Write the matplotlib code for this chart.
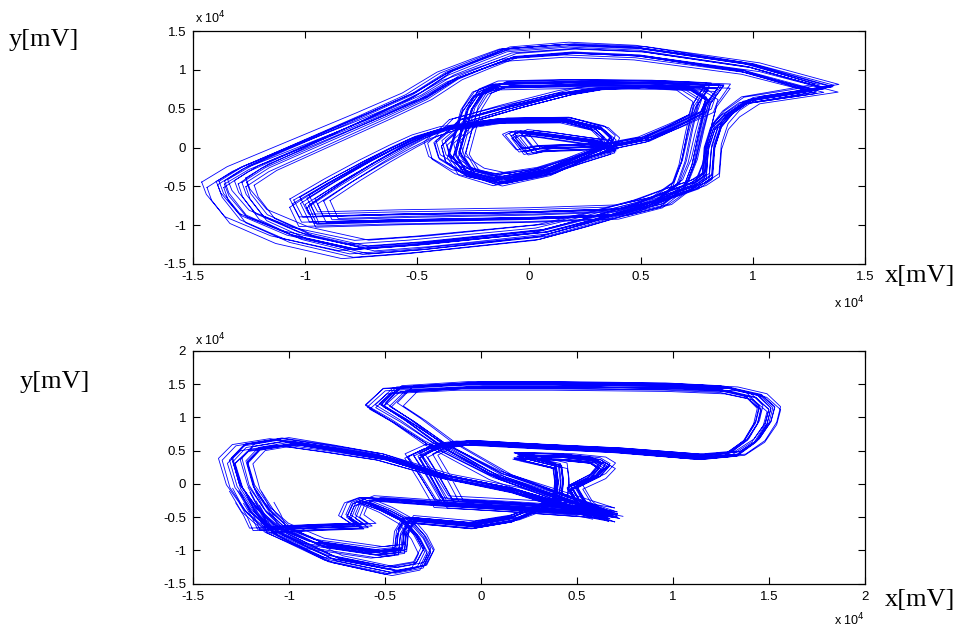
import numpy as np
import matplotlib
matplotlib.use("Agg")
import matplotlib.pyplot as plt

# ---------------- data (units of 1e4 mV) ----------------
# top panel: outer loop
top_outer_x = [-1.39, -1.28, -0.96, -0.72, -0.52, -0.37, -0.22, -0.10, 0.18, 0.50, 1.00, 1.35, 1.22, 1.00,
               0.91, 0.86, 0.83, 0.82, 0.76, 0.64, 0.50, 0.26, 0.05, -0.52, -0.80, -1.09, -1.29, -1.37, -1.39]
top_outer_y = [-0.48, -0.28, 0.12, 0.42, 0.68, 0.95, 1.12, 1.25, 1.31, 1.27, 1.06, 0.78, 0.72, 0.62,
               0.44, 0.27, 0.00, -0.38, -0.50, -0.62, -0.78, -0.98, -1.14, -1.31, -1.37, -1.18, -0.93, -0.64, -0.48]
# top panel: middle loop
top_mid_x = [-1.02, -0.98, -0.60, 0.00, 0.40, 0.60, 0.70, 0.74, 0.77, 0.80, 0.86, 0.60, 0.20, -0.13, -0.22,
             -0.27, -0.30, -0.33, -0.28, -0.13, 0.09, 0.24, 0.35, 0.37, 0.32, 0.17, -0.13, -0.37, -0.49,
             -0.59, -0.72, -0.87, -1.02]
top_mid_y = [-0.72, -0.96, -0.93, -0.90, -0.86, -0.72, -0.50, -0.20, 0.20, 0.55, 0.80, 0.83, 0.84, 0.82, 0.72,
             0.50, 0.20, -0.10, -0.32, -0.45, -0.32, -0.13, 0.00, 0.12, 0.25, 0.36, 0.35, 0.25, 0.14,
             0.00, -0.20, -0.45, -0.72]
# top panel: inner eye / spiral loop
top_eye_x = [-0.31, -0.10, 0.15, 0.30, 0.55, 0.72, 0.80, 0.78, 0.66, 0.52, 0.38, 0.25, 0.05, -0.02, -0.08,
             -0.05, 0.05, 0.20, 0.33, 0.36, 0.22, 0.05, -0.15, -0.30, -0.40, -0.42, -0.36, -0.31]
top_eye_y = [0.35, 0.52, 0.70, 0.77, 0.80, 0.77, 0.62, 0.45, 0.28, 0.10, 0.02, 0.00, -0.02, -0.06, 0.15,
             0.19, 0.16, 0.10, 0.05, -0.05, -0.17, -0.33, -0.42, -0.33, -0.15, 0.05, 0.20, 0.35]

# bottom panel: upper-right loop
bot_upper_x = [0.69, 0.40, 0.08, -0.25, -0.42, -0.55, -0.46, -0.09, 0.40, 1.00, 1.30, 1.45, 1.52, 1.50,
               1.44, 1.34, 1.15, 0.72, 0.30, -0.09, -0.25, -0.35, -0.28, -0.20, 0.17, 0.58, 0.69]
bot_upper_y = [-0.50, -0.21, 0.11, 0.62, 0.96, 1.19, 1.44, 1.50, 1.50, 1.48, 1.44, 1.34, 1.15, 0.92,
               0.65, 0.45, 0.40, 0.50, 0.56, 0.62, 0.56, 0.42, 0.10, -0.30, -0.36, -0.44, -0.50]
# bottom panel: left loop with small right loop
bot_left_x = [0.62, 0.17, -0.18, -0.53, -0.80, -1.05, -1.24, -1.31, -1.27, -1.18, -1.08, -0.88, -0.55,
              -0.43, -0.42, -0.38, -0.04, 0.17, 0.42, 0.43, 0.42, 0.25, 0.20, 0.45, 0.62, 0.67, 0.62, 0.50,
              0.55, 0.62]
bot_left_y = [-0.48, -0.09, 0.11, 0.42, 0.55, 0.66, 0.57, 0.36, -0.04, -0.42, -0.68, -0.93, -1.07,
              -1.03, -0.75, -0.55, -0.64, -0.54, -0.25, 0.05, 0.28, 0.40, 0.44, 0.42, 0.37, 0.28, 0.12, -0.05,
              -0.30, -0.48]
# bottom panel: hook strand
bot_hook_x = [-1.22, -1.18, -1.15, -0.85, -0.63, -0.70, -0.67, -0.60, -0.20, 0.17, 0.58, 0.68]
bot_hook_y = [-0.30, -0.50, -0.70, -0.66, -0.64, -0.50, -0.30, -0.22, -0.30, -0.36, -0.44, -0.50]
# bottom panel: lowest arc
bot_low_x = [-0.62, -0.50, -0.39, -0.32, -0.28, -0.32, -0.47, -0.79, -1.08, -1.20, -1.26]
bot_low_y = [-0.26, -0.40, -0.57, -0.80, -1.02, -1.25, -1.33, -1.14, -0.75, -0.42, -0.10]

# per-pass variations (x scale, y scale, x shift, y shift), read as spread of the bundles
pass_a = [(1.00, 1.00, 0.00, 0.00), (0.96, 0.95, 0.02, 0.03), (1.02, 1.03, -0.02, -0.02),
          (0.93, 0.90, 0.03, 0.04), (0.98, 1.01, 0.00, -0.03), (0.95, 0.96, 0.04, 0.01),
          (1.03, 0.99, -0.03, 0.03), (0.92, 0.93, 0.02, 0.00), (0.97, 0.98, -0.01, 0.04),
          (1.00, 0.94, 0.03, -0.02), (0.94, 1.02, 0.01, 0.02), (0.99, 0.91, -0.02, 0.00),
          (0.91, 0.95, 0.04, -0.03), (1.01, 0.99, 0.02, 0.04), (0.96, 0.88, -0.01, 0.01),
          (0.93, 0.97, 0.03, -0.04)]
pass_b = [(1.00, 1.00, 0.00, 0.00), (0.95, 0.98, 0.03, -0.02), (1.03, 0.96, -0.02, 0.03),
          (0.98, 1.04, 0.01, -0.03), (0.93, 0.94, 0.00, 0.02), (1.01, 1.02, 0.03, 0.00),
          (0.97, 0.91, -0.03, 0.02), (1.04, 0.98, 0.00, -0.02), (0.94, 1.03, -0.01, 0.01),
          (0.99, 0.96, 0.02, 0.04), (1.00, 0.92, -0.03, -0.01), (0.92, 1.00, 0.03, 0.03),
          (0.90, 0.96, 0.04, 0.01), (1.02, 1.03, -0.03, -0.03), (0.97, 0.90, 0.01, 0.04),
          (0.94, 1.01, -0.02, -0.02)]
pass_c = [(1.00, 1.00, 0.00, 0.00), (0.93, 0.97, 0.04, 0.00), (0.97, 1.03, 0.01, -0.03),
          (1.03, 0.95, -0.03, 0.02), (0.90, 0.93, 0.05, 0.03), (0.96, 0.99, 0.03, -0.02),
          (1.02, 1.04, -0.02, 0.01), (0.95, 0.92, 0.00, 0.03), (0.99, 1.02, 0.04, 0.04),
          (0.92, 1.00, -0.02, -0.03), (1.04, 0.97, 0.02, 0.01), (0.96, 0.91, -0.02, 0.03)]

top_ticks = [-1.5, -1, -0.5, 0, 0.5, 1, 1.5]
top_labels = ['-1.5', '-1', '-0.5', '0', '0.5', '1', '1.5']
bot_ticks = [-1.5, -1, -0.5, 0, 0.5, 1, 1.5, 2]
bot_labels = ['-1.5', '-1', '-0.5', '0', '0.5', '1', '1.5', '2']


def bundle(xs, ys, passes, cx, cy):
    X, Y = [], []
    for sx, sy, dx, dy in passes:
        X += [cx + (x - cx) * sx + dx for x in xs] + [np.nan]
        Y += [cy + (y - cy) * sy + dy for y in ys] + [np.nan]
    return X, Y


fig = plt.figure(figsize=(9.64, 6.34), dpi=100)
ax1 = fig.add_axes([0.2002, 0.5836, 0.6971, 0.3675])
ax2 = fig.add_axes([0.2002, 0.0794, 0.6971, 0.3670])

blue = (0.0, 0.0, 1.0)
lw = 0.6
for xs, ys, pv, c in [(top_outer_x, top_outer_y, pass_a, (-0.02, 0.0)),
                      (top_mid_x, top_mid_y, pass_b, (-0.1, -0.05)),
                      (top_eye_x, top_eye_y, pass_c, (0.2, 0.15))]:
    X, Y = bundle(xs, ys, pv, *c)
    ax1.plot(X, Y, color=blue, lw=lw)

for xs, ys, pv, c in [(bot_upper_x, bot_upper_y, pass_b, (0.5, 0.5)),
                      (bot_left_x, bot_left_y, pass_a, (-0.4, -0.2)),
                      (bot_hook_x, bot_hook_y, pass_c, (-0.3, -0.4)),
                      (bot_low_x, bot_low_y, pass_c, (-0.6, -0.7))]:
    X, Y = bundle(xs, ys, pv, *c)
    ax2.plot(X, Y, color=blue, lw=lw)

for ax, ticks, labels, lim in [(ax1, top_ticks, top_labels, (-1.5, 1.5)),
                               (ax2, bot_ticks, bot_labels, (-1.5, 2))]:
    ax.set_xlim(*lim)
    ax.set_ylim(*lim)
    ax.set_xticks(ticks)
    ax.set_xticklabels(labels)
    ax.set_yticks(ticks)
    ax.set_yticklabels(labels)
    ax.tick_params(direction='in', length=5, width=0.8, top=True, right=True,
                   labelsize=9.5, pad=5)
    for lab in ax.get_xticklabels() + ax.get_yticklabels():
        lab.set_family('Liberation Sans')
    for s in ax.spines.values():
        s.set_linewidth(0.9)

sans = 'Liberation Sans'
serif = 'Liberation Serif'
# offset labels
fig.text(195 / 964, 1 - 18 / 634, r'x 10$^4$', fontsize=9, family=sans, va='center', ha='left')
fig.text(865 / 964, 1 - 303 / 634, r'x 10$^4$', fontsize=9, family=sans, va='center', ha='right')
fig.text(195 / 964, 1 - 340 / 634, r'x 10$^4$', fontsize=9, family=sans, va='center', ha='left')
fig.text(865 / 964, 1 - 620 / 634, r'x 10$^4$', fontsize=9, family=sans, va='center', ha='right')
# axis names
fig.text(44 / 964, 1 - 40 / 634, 'y[mV]', fontsize=19, family=serif, va='center', ha='center')
fig.text(55 / 964, 1 - 382 / 634, 'y[mV]', fontsize=19, family=serif, va='center', ha='center')
fig.text(920 / 964, 1 - 276 / 634, 'x[mV]', fontsize=19, family=serif, va='center', ha='center')
fig.text(920 / 964, 1 - 600 / 634, 'x[mV]', fontsize=19, family=serif, va='center', ha='center')

fig.savefig('out.png', dpi=100)
